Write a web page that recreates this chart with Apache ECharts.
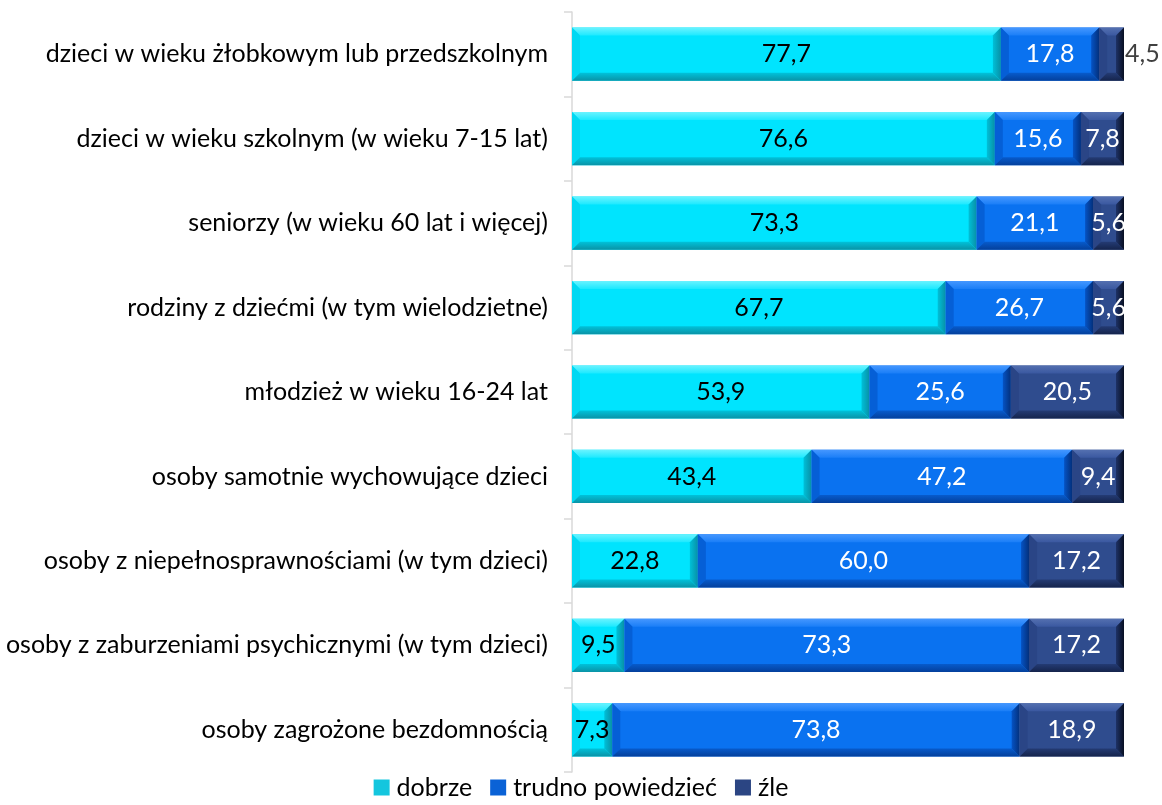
<!DOCTYPE html>
<html>
<head>
<meta charset="utf-8">
<script src="https://cdn.jsdelivr.net/npm/echarts@6/dist/echarts.min.js"></script>
<style>
  html, body { margin: 0; padding: 0; background: #fff; }
  #chart { width: 1162px; height: 805px; }
</style>
</head>
<body>
<div id="chart"></div>
<script>
// Groups assessed (top to bottom)
const categories = [
  'dzieci w wieku żłobkowym lub przedszkolnym',
  'dzieci w wieku szkolnym (w wieku 7-15 lat)',
  'seniorzy (w wieku 60 lat i więcej)',
  'rodziny z dziećmi (w tym wielodzietne)',
  'młodzież w wieku 16-24 lat',
  'osoby samotnie wychowujące dzieci',
  'osoby z niepełnosprawnościami (w tym dzieci)',
  'osoby z zaburzeniami psychicznymi (w tym dzieci)',
  'osoby zagrożone bezdomnością'
];
const seriesNames = ['dobrze', 'trudno powiedzieć', 'źle'];
const dobrze = [77.7, 76.6, 73.3, 67.7, 53.9, 43.4, 22.8, 9.5, 7.3];
const trudno = [17.8, 15.6, 21.1, 26.7, 25.6, 47.2, 60.0, 73.3, 73.8];
const zle    = [4.5, 7.8, 5.6, 5.6, 20.5, 9.4, 17.2, 17.2, 18.9];

const FONT = 'Lato';
const FONT_SIZE = 25;

// Bevel shading per series: face, top band, left band, bottom band, right band
const palettes = [
  { face: '#00e4fe', top: ['#6af3ff', '#1ce9ff'], left: '#00d8f2', bottom: ['#00c2da', '#0a93a6'], right: ['#00c0d8', '#0890a6'], text: '#000000', legend: '#14c6de' },
  { face: '#0a72f0', top: ['#4597ff', '#1a7ef7'], left: '#055fd6', bottom: ['#075bcc', '#04409c'], right: ['#0553c4', '#03307c'], text: '#ffffff', legend: '#0a62d6' },
  { face: '#2f4c8e', top: ['#5470b0', '#3a58a0'], left: '#2a4586', bottom: ['#243b74', '#15244c'], right: ['#1e3266', '#080f22'], text: '#ffffff', legend: '#2b4583' }
];

const fmt = v => v.toFixed(1).replace('.', ',');
const grad = (x2, y2, stops) => new echarts.graphic.LinearGradient(0, 0, x2, y2,
  [{ offset: 0, color: stops[0] }, { offset: 1, color: stops[1] }]);

// Each segment: [category index, stack start, stack end, value]
const allValues = [dobrze, trudno, zle];
function segments(idx) {
  return categories.map((_, i) => {
    let start = 0;
    for (let k = 0; k < idx; k++) start += allValues[k][i];
    const v = allValues[idx][i];
    return [i, start, start + v, v];
  });
}

function makeRender(idx) {
  const pal = palettes[idx];
  return function (params, api) {
    const cat = api.value(0);
    const pA = api.coord([api.value(1), cat]);
    const pB = api.coord([api.value(2), cat]);
    const h = api.size([0, 1])[1] * 0.63;
    const x0 = pA[0], x1 = pB[0];
    const y0 = pA[1] - h / 2, y1 = pA[1] + h / 2;
    const w = x1 - x0;
    const b = Math.min(8, w / 2, h / 2);
    const poly = (points, fill) => ({ type: 'polygon', shape: { points }, style: { fill } });
    const children = [
      { type: 'rect', shape: { x: x0, y: y0, width: w, height: h }, style: { fill: pal.face } },
      poly([[x0, y0], [x1, y0], [x1 - b, y0 + b], [x0 + b, y0 + b]], grad(0, 1, pal.top)),
      poly([[x0, y0], [x0 + b, y0 + b], [x0 + b, y1 - b], [x0, y1]], pal.left),
      poly([[x0, y1], [x0 + b, y1 - b], [x1 - b, y1 - b], [x1, y1]], grad(0, 1, pal.bottom)),
      poly([[x1, y0], [x1, y1], [x1 - b, y1 - b], [x1 - b, y0 + b]], grad(1, 0, pal.right))
    ];
    const v = api.value(3);
    // segments too narrow for their label get it placed just past the bar end
    const outside = w < 28;
    children.push({
      type: 'text',
      style: {
        text: fmt(v),
        x: outside ? x1 + 1 : (x0 + x1) / 2,
        y: pA[1],
        align: outside ? 'left' : 'center',
        verticalAlign: 'middle',
        fill: outside ? '#404040' : pal.text,
        fontFamily: FONT,
        fontSize: FONT_SIZE
      }
    });
    return { type: 'group', children };
  };
}

const chart = echarts.init(document.getElementById('chart'));
chart.setOption({
  animation: false,
  grid: { left: 572, right: 38, top: 12, bottom: 33, containLabel: false },
  legend: {
    bottom: 0,
    left: 'center',
    itemWidth: 16,
    itemHeight: 16,
    itemGap: 18,
    icon: 'rect',
    textStyle: { fontFamily: FONT, fontSize: FONT_SIZE, color: '#000', padding: [0, 0, 0, 2] },
    data: seriesNames.map((n, i) => ({ name: n, itemStyle: { color: palettes[i].legend } }))
  },
  xAxis: { type: 'value', min: 0, max: 100, show: false },
  yAxis: {
    type: 'category',
    data: categories,
    inverse: true,
    axisLine: { show: true, lineStyle: { color: '#d9d9d9', width: 1.5 } },
    axisTick: { show: true, length: 8, lineStyle: { color: '#d9d9d9', width: 1.5 } },
    axisLabel: { fontFamily: FONT, fontSize: FONT_SIZE, color: '#000', margin: 24 }
  },
  series: seriesNames.map((name, idx) => ({
    name,
    type: 'custom',
    renderItem: makeRender(idx),
    encode: { x: [1, 2], y: 0 },
    itemStyle: { color: palettes[idx].legend },
    data: segments(idx),
    silent: true
  }))
});
</script>
</body>
</html>
